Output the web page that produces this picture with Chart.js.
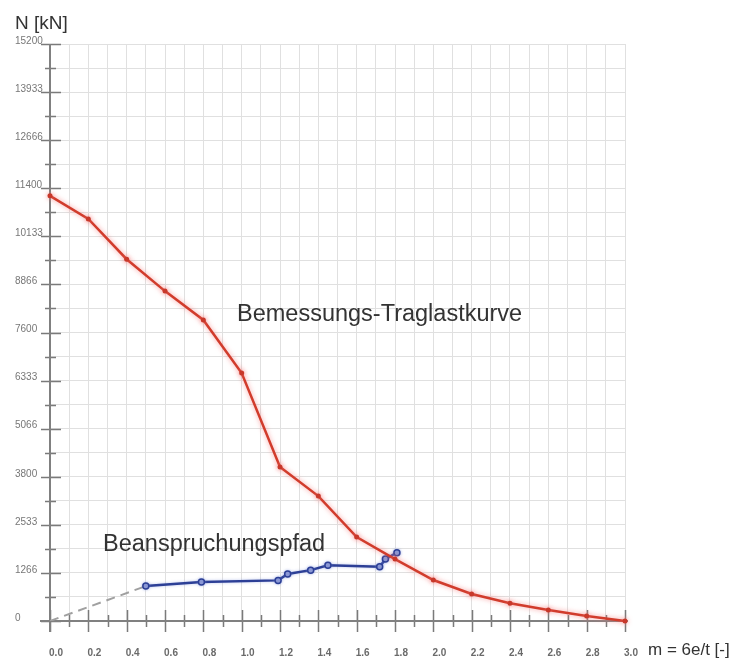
<!DOCTYPE html>
<html>
<head>
<meta charset="utf-8">
<script src="https://cdn.jsdelivr.net/npm/chart.js@4.4.0/dist/chart.umd.min.js"></script>
<style>
  html, body { margin: 0; padding: 0; background: #fff; }
  canvas { display: block; }
</style>
</head>
<body>
<canvas id="chart" width="733" height="660"></canvas>
<script>
// Bemessungs-Traglastkurve (design load-bearing curve)
var curveM = [0.0, 0.2, 0.4, 0.6, 0.8, 1.0, 1.2, 1.4, 1.6, 1.8, 2.0, 2.2, 2.4, 2.6, 2.8, 3.0];
var curveN = [11200, 10590, 9530, 8690, 7930, 6530, 4060, 3290, 2210, 1630, 1080, 710, 470, 290, 130, 0];

// Beanspruchungspfad (load path)
var pathM = [0.5, 0.79, 1.19, 1.24, 1.36, 1.45, 1.72, 1.75, 1.81];
var pathN = [920, 1030, 1070, 1240, 1340, 1470, 1430, 1630, 1800];

// dashed start of the path, from the origin to the first path point
var startM = [0.0, 0.5];
var startN = [0, 920];

var xTickLabels = ['0.0', '0.2', '0.4', '0.6', '0.8', '1.0', '1.2', '1.4', '1.6', '1.8', '2.0', '2.2', '2.4', '2.6', '2.8', '3.0'];
var yTickLabels = ['0', '1266', '2533', '3800', '5066', '6333', '7600', '8866', '10133', '11400', '12666', '13933', '15200'];

var X_MAX = 3.0, Y_MAX = 15200;
var FONT = "'Liberation Sans', Arial, sans-serif";

function toPoints(xs, ys) {
  return xs.map(function (x, i) { return { x: x, y: ys[i] }; });
}

// one grid line every half label step
var xGrid = [], yGrid = [];
for (var i = 0; i <= (xTickLabels.length - 1) * 2; i++) xGrid.push(i * X_MAX / ((xTickLabels.length - 1) * 2));
for (var j = 0; j <= (yTickLabels.length - 1) * 2; j++) yGrid.push(j * Y_MAX / ((yTickLabels.length - 1) * 2));

var glow = {
  id: 'glow',
  beforeDatasetDraw: function (chart, args) {
    var ctx = chart.ctx;
    ctx.save();
    if (args.index === 0) {
      ctx.shadowColor = 'rgba(245, 120, 120, 0.75)';
      ctx.shadowBlur = 5;
    } else if (args.index === 1) {
      ctx.shadowColor = 'rgba(120, 140, 220, 0.5)';
      ctx.shadowBlur = 3;
    }
  },
  afterDatasetDraw: function (chart) {
    chart.ctx.restore();
  }
};

var axes = {
  id: 'axes',
  beforeDatasetsDraw: function (chart) {
    var ctx = chart.ctx, xs = chart.scales.x, ys = chart.scales.y;
    var x0 = xs.getPixelForValue(0), y0 = ys.getPixelForValue(0);
    ctx.save();
    ctx.strokeStyle = '#7a7a7a';
    ctx.lineWidth = 1.5;
    ctx.beginPath();
    yGrid.forEach(function (v, k) {
      var py = Math.round(ys.getPixelForValue(v)) + 0.5;
      if (k % 2 === 0) { ctx.moveTo(x0 - 9, py); ctx.lineTo(x0 + 11, py); }
      else { ctx.moveTo(x0 - 5, py); ctx.lineTo(x0 + 6, py); }
    });
    xGrid.forEach(function (v, k) {
      var px = Math.round(xs.getPixelForValue(v)) + 0.5;
      if (k % 2 === 0) { ctx.moveTo(px, y0 - 11); ctx.lineTo(px, y0 + 11); }
      else { ctx.moveTo(px, y0 - 6); ctx.lineTo(px, y0 + 6); }
    });
    ctx.stroke();
    ctx.lineWidth = 2;
    ctx.strokeStyle = '#808080';
    ctx.beginPath();
    ctx.moveTo(x0 - 10, y0);
    ctx.lineTo(xs.getPixelForValue(X_MAX) + 3, y0);
    ctx.moveTo(x0, ys.getPixelForValue(Y_MAX));
    ctx.lineTo(x0, y0 + 11);
    ctx.stroke();
    ctx.restore();
  }
};

var texts = {
  id: 'texts',
  afterDraw: function (chart) {
    var ctx = chart.ctx;
    ctx.save();
    ctx.fillStyle = '#333';
    ctx.textBaseline = 'alphabetic';
    ctx.textAlign = 'left';
    ctx.font = '23.5px ' + FONT;
    ctx.fillText('Bemessungs-Traglastkurve', 237, 321);
    ctx.fillText('Beanspruchungspfad', 103, 551);
    ctx.font = '19px ' + FONT;
    ctx.fillText('N [kN]', 15, 29);
    ctx.font = '17px ' + FONT;
    ctx.fillText('m = 6e/t [-]', 648, 655);
    ctx.restore();
  }
};

new Chart(document.getElementById('chart'), {
  type: 'scatter',
  data: {
    datasets: [
      {
        label: 'Bemessungs-Traglastkurve',
        data: toPoints(curveM, curveN),
        showLine: true,
        borderColor: '#d13c2c',
        borderWidth: 2.5,
        backgroundColor: '#c8382a',
        pointRadius: 2.5,
        pointBorderWidth: 0,
        clip: false
      },
      {
        label: 'Beanspruchungspfad',
        data: toPoints(pathM, pathN),
        showLine: true,
        borderColor: '#2c3f96',
        borderWidth: 2.5,
        backgroundColor: '#8f9bd4',
        pointRadius: 3,
        pointBorderWidth: 1.5,
        pointBorderColor: '#2c3f96',
        clip: false
      },
      {
        label: 'start',
        data: toPoints(startM, startN),
        showLine: true,
        borderColor: '#a0a0a0',
        borderWidth: 2,
        borderDash: [9, 6],
        pointRadius: 0
      }
    ]
  },
  options: {
    responsive: false,
    animation: false,
    layout: { padding: { left: 15, top: 44, right: 108, bottom: 0 } },
    plugins: {
      legend: { display: false },
      tooltip: { enabled: false }
    },
    scales: {
      x: {
        type: 'linear',
        min: 0,
        max: X_MAX,
        afterFit: function (s) { s.height = 39; },
        afterBuildTicks: function (s) { s.ticks = xGrid.map(function (v) { return { value: v }; }); },
        grid: { color: '#e0e0e0', lineWidth: 1, drawTicks: false },
        border: { display: false },
        ticks: {
          autoSkip: false,
          maxRotation: 0,
          padding: 26,
          labelOffset: 6,
          color: '#6a6a6a',
          font: { family: FONT, size: 10, weight: 'bold' },
          callback: function (v, k) { return k % 2 === 0 ? xTickLabels[k / 2] : ''; }
        }
      },
      y: {
        type: 'linear',
        min: 0,
        max: Y_MAX,
        afterFit: function (s) { s.width = 35; },
        afterBuildTicks: function (s) { s.ticks = yGrid.map(function (v) { return { value: v }; }); },
        grid: { color: '#e0e0e0', lineWidth: 1, drawTicks: false },
        border: { display: false },
        ticks: {
          autoSkip: false,
          crossAlign: 'far',
          labelOffset: -3,
          color: '#777777',
          font: { family: FONT, size: 10 },
          callback: function (v, k) { return k % 2 === 0 ? yTickLabels[k / 2] : ''; }
        }
      }
    }
  },
  plugins: [glow, axes, texts]
});
</script>
</body>
</html>
